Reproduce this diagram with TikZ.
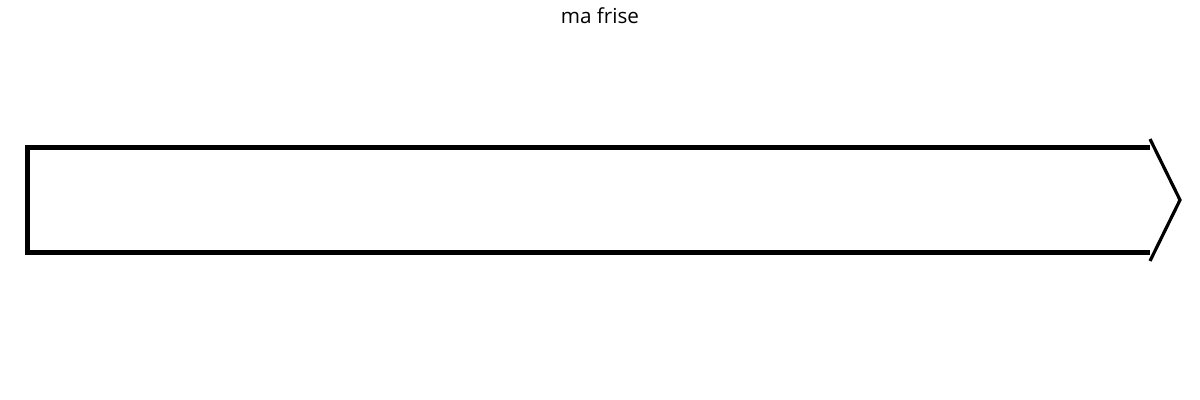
\documentclass[tikz,border=0pt]{standalone}
\usepackage{fontspec}
\setmainfont{Open Sans}
\begin{document}
\begin{tikzpicture}[x=0.75pt,y=-0.75pt,
  titlestyle/.style={font=\fontsize{15.5}{18}\selectfont, text=black, inner sep=0pt},
  bodystyle/.style={minimum width=1122*0.75pt, minimum height=104*0.75pt, inner sep=0pt},
  edgestyle/.style={draw=black, line width=3.6pt, line join=miter},
  tipstyle/.style={draw=black, line width=2.4pt}]
\useasboundingbox (0,0) rectangle (1200,400);
\node[titlestyle] (title) at (600,16) {ma frise};
\node[bodystyle] (frise) at (589,200) {};
\draw[edgestyle] (frise.north east) -- (frise.north west) -- (frise.south west) -- (frise.south east);
\coordinate (tiptop) at (1150,139);
\coordinate (tip) at (1180,200);
\coordinate (tipbot) at (1150,261);
\draw[tipstyle] (tiptop) -- (tip) -- (tipbot);
\end{tikzpicture}
\end{document}
